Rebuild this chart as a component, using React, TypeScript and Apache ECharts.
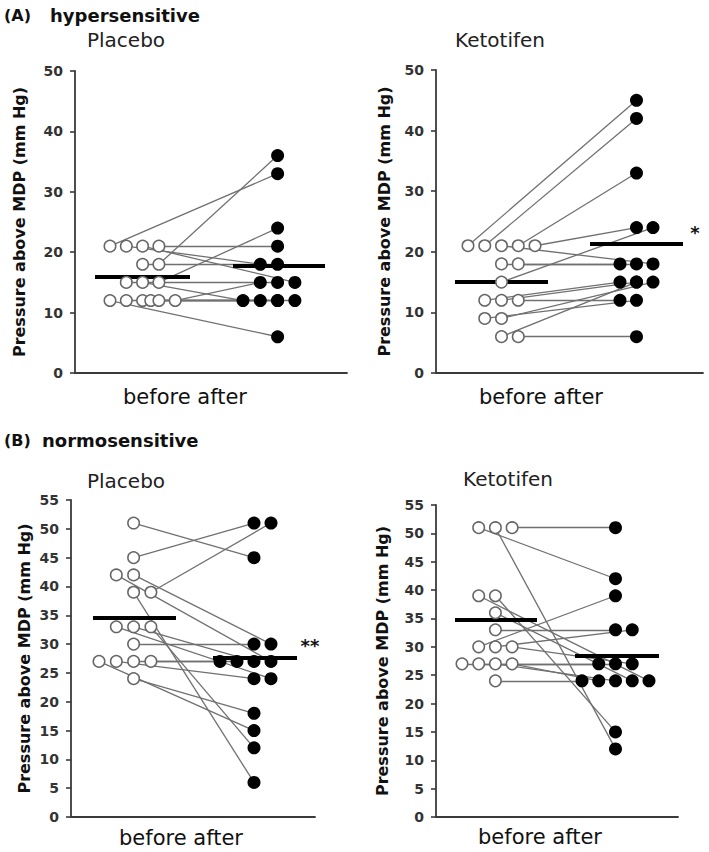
import React, { useEffect, useRef } from "react";
import * as echarts from "echarts";

// ---------- DATA ----------
// (A) hypersensitive – Placebo
const aPlaceboBefore = [21, 18, 15, 21, 21, 21, 18, 15, 15, 12, 12, 12, 12, 12, 12];
const aPlaceboBeforeCol = [0, 3, 3, 3, 1, 2, 2, 1, 2, 0, 1, 2, 2.5, 3, 4];
const aPlaceboAfter = [33, 36, 24, 21, 18, 15, 18, 15, 12, 6, 12, 12, 12, 12, 15];
const aPlaceboAfterCol = [2, 2, 2, 2, 1, 3, 2, 2, 0, 2, 1, 2, 2, 3, 1];
const aPlaceboMeans = [15.9, 17.7];

// (A) hypersensitive – Ketotifen
const aKetoBefore = [21, 21, 21, 21, 21, 18, 18, 15, 12, 12, 12, 9, 9, 6, 6];
const aKetoBeforeCol = [0, 1, 3, 4, 2, 2, 3, 2, 1, 2, 3, 1, 2, 2, 3];
const aKetoAfter = [45, 42, 33, 24, 18, 18, 18, 24, 15, 15, 12, 12, 15, 15, 6];
const aKetoAfterCol = [1, 1, 1, 1, 2, 0, 1, 2, 0, 1, 0, 1, 2, 1, 1];
const aKetoMeans = [15.0, 21.3];

// (B) normosensitive – Placebo
const bPlaceboBefore = [51, 45, 39, 42, 42, 39, 33, 33, 33, 30, 27, 27, 27, 27, 24];
const bPlaceboBeforeCol = [2, 2, 3, 1, 2, 2, 3, 2, 1, 2, 3, 2, 1, 0, 2];
const bPlaceboAfter = [45, 51, 51, 27, 30, 6, 12, 27, 24, 30, 27, 27, 24, 15, 18];
const bPlaceboAfterCol = [2, 2, 3, 3, 3, 2, 2, 2, 3, 2, 1, 0, 2, 2, 2];
const bPlaceboMeans = [34.6, 27.6];

// (B) normosensitive – Ketotifen
const bKetoBefore = [51, 51, 51, 39, 39, 36, 33, 30, 30, 30, 27, 27, 27, 27, 24];
const bKetoBeforeCol = [3, 1, 2, 1, 2, 2, 2, 1, 2, 3, 0, 1, 2, 3, 2];
const bKetoAfter = [51, 42, 12, 24, 15, 24, 33, 39, 33, 27, 27, 27, 24, 24, 24];
const bKetoAfterCol = [2, 2, 2, 4, 2, 3, 2, 2, 3, 3, 2, 1, 2, 1, 0];
const bKetoMeans = [34.7, 28.4];

const yTitle = "Pressure above MDP (mm Hg)";
const xLabel = "before after";

// ---------- LAYOUT ----------
const FONT = "DejaVu Sans";
const panels = [
  {
    before: aPlaceboBefore, beforeCol: aPlaceboBeforeCol, after: aPlaceboAfter, afterCol: aPlaceboAfterCol, means: aPlaceboMeans,
    left: 75, top: 71, width: 272, height: 302, yMax: 50, yStep: 10, nameGap: 48,
    bBase: 35, bStep: 16.3, aBase: 168, aStep: 17.3, meanB: [20, 115], meanA: [158, 250],
  },
  {
    before: aKetoBefore, beforeCol: aKetoBeforeCol, after: aKetoAfter, afterCol: aKetoAfterCol, means: aKetoMeans,
    left: 436, top: 70, width: 267, height: 303, yMax: 50, yStep: 10, nameGap: 44,
    bBase: 32, bStep: 16.75, aBase: 184, aStep: 16.5, meanB: [19, 112], meanA: [154, 247],
  },
  {
    before: bPlaceboBefore, beforeCol: bPlaceboBeforeCol, after: bPlaceboAfter, afterCol: bPlaceboAfterCol, means: bPlaceboMeans,
    left: 71, top: 500, width: 244, height: 317, yMax: 55, yStep: 5, nameGap: 39,
    bBase: 28, bStep: 17.3, aBase: 149, aStep: 17, meanB: [22, 105], meanA: [142, 226],
  },
  {
    before: bKetoBefore, beforeCol: bKetoBeforeCol, after: bKetoAfter, afterCol: bKetoAfterCol, means: bKetoMeans,
    left: 436, top: 505, width: 242, height: 312, yMax: 55, yStep: 5, nameGap: 46,
    bBase: 26, bStep: 16.7, aBase: 146, aStep: 16.75, meanB: [19, 101], meanA: [139, 223],
  },
];

const axisColor = "#3a3a3a";

function buildOption() {
  const grid = panels.map((p) => ({ left: p.left, top: p.top, width: p.width, height: p.height }));
  const xAxis = panels.map((p, i) => ({
    gridIndex: i, type: "value", min: 0, max: p.width,
    axisLine: { show: true, onZero: false, lineStyle: { color: axisColor, width: 1.8 } },
    axisTick: { show: false }, axisLabel: { show: false }, splitLine: { show: false },
  }));
  const yAxis = panels.map((p, i) => ({
    gridIndex: i, type: "value", min: 0, max: p.yMax, interval: p.yStep,
    axisLine: { show: true, onZero: false, lineStyle: { color: axisColor, width: 1.8 } },
    axisTick: { show: true, length: 5, lineStyle: { color: axisColor, width: 1.6 } },
    axisLabel: { fontFamily: FONT, fontWeight: "bold", fontSize: 14, color: "#333", margin: 12 },
    splitLine: { show: false },
    name: yTitle, nameLocation: "middle", nameRotate: 90, nameGap: p.nameGap,
    nameTextStyle: { fontFamily: FONT, fontWeight: "bold", fontSize: 16, color: "#111" },
  }));
  const series: any[] = [];
  panels.forEach((p, i) => {
    const bx = (k: number) => p.bBase + p.beforeCol[k] * p.bStep;
    const ax = (k: number) => p.aBase + p.afterCol[k] * p.aStep;
    series.push({
      type: "lines", coordinateSystem: "cartesian2d", xAxisIndex: i, yAxisIndex: i, silent: true, z: 2,
      lineStyle: { color: "#707070", width: 1.3, opacity: 1 },
      data: p.before.map((v, k) => ({ coords: [[bx(k), v], [ax(k), p.after[k]]] })),
    });
    series.push({
      type: "lines", coordinateSystem: "cartesian2d", xAxisIndex: i, yAxisIndex: i, silent: true, z: 3,
      lineStyle: { color: "#000", width: 4, opacity: 1 },
      data: [
        { coords: [[p.meanB[0], p.means[0]], [p.meanB[1], p.means[0]]] },
        { coords: [[p.meanA[0], p.means[1]], [p.meanA[1], p.means[1]]] },
      ],
    });
    series.push({
      type: "scatter", xAxisIndex: i, yAxisIndex: i, silent: true, z: 4, symbol: "circle", symbolSize: 11.5,
      itemStyle: { color: "#fff", borderColor: "#666", borderWidth: 1.5, opacity: 1 },
      data: p.before.map((v, k) => [bx(k), v]),
    });
    series.push({
      type: "scatter", xAxisIndex: i, yAxisIndex: i, silent: true, z: 5, symbol: "circle", symbolSize: 13,
      itemStyle: { color: "#000", opacity: 1 },
      data: p.after.map((v, k) => [ax(k), v]),
    });
  });

  const txt = (x: number, y: number, text: string, size: number, weight: string, align = "center", color = "#111") => ({
    type: "text", x, y, silent: true,
    style: { text, fontFamily: FONT, fontSize: size, fontWeight: weight, fill: color, textAlign: align, textVerticalAlign: "middle" },
  });
  const graphic = [
    txt(4, 15, "(A)", 16, "bold", "left"),
    txt(50, 15, "hypersensitive", 18, "bold", "left"),
    txt(126, 40, "Placebo", 20, "normal", "center", "#222"),
    txt(500, 40, "Ketotifen", 20, "normal", "center", "#222"),
    txt(185, 397, xLabel, 21, "normal"),
    txt(541, 397, xLabel, 21, "normal"),
    txt(695, 232, "*", 18, "bold"),
    txt(4, 440, "(B)", 16, "bold", "left"),
    txt(42, 440, "normosensitive", 18, "bold", "left"),
    txt(126, 481, "Placebo", 20, "normal", "center", "#222"),
    txt(508, 479, "Ketotifen", 20, "normal", "center", "#222"),
    txt(181, 838, xLabel, 21, "normal"),
    txt(540, 837, xLabel, 21, "normal"),
    txt(310, 645, "**", 18, "bold"),
  ];

  return { animation: false, backgroundColor: "#fff", grid, xAxis, yAxis, series, graphic };
}

export default function App() {
  const ref = useRef<HTMLDivElement>(null);
  useEffect(() => {
    document.body.style.margin = "0";
    if (!ref.current) return;
    const chart = echarts.init(ref.current, undefined, { renderer: "svg" });
    chart.setOption(buildOption() as any);
    return () => chart.dispose();
  }, []);
  return <div ref={ref} style={{ width: 709, height: 852 }} />;
}
